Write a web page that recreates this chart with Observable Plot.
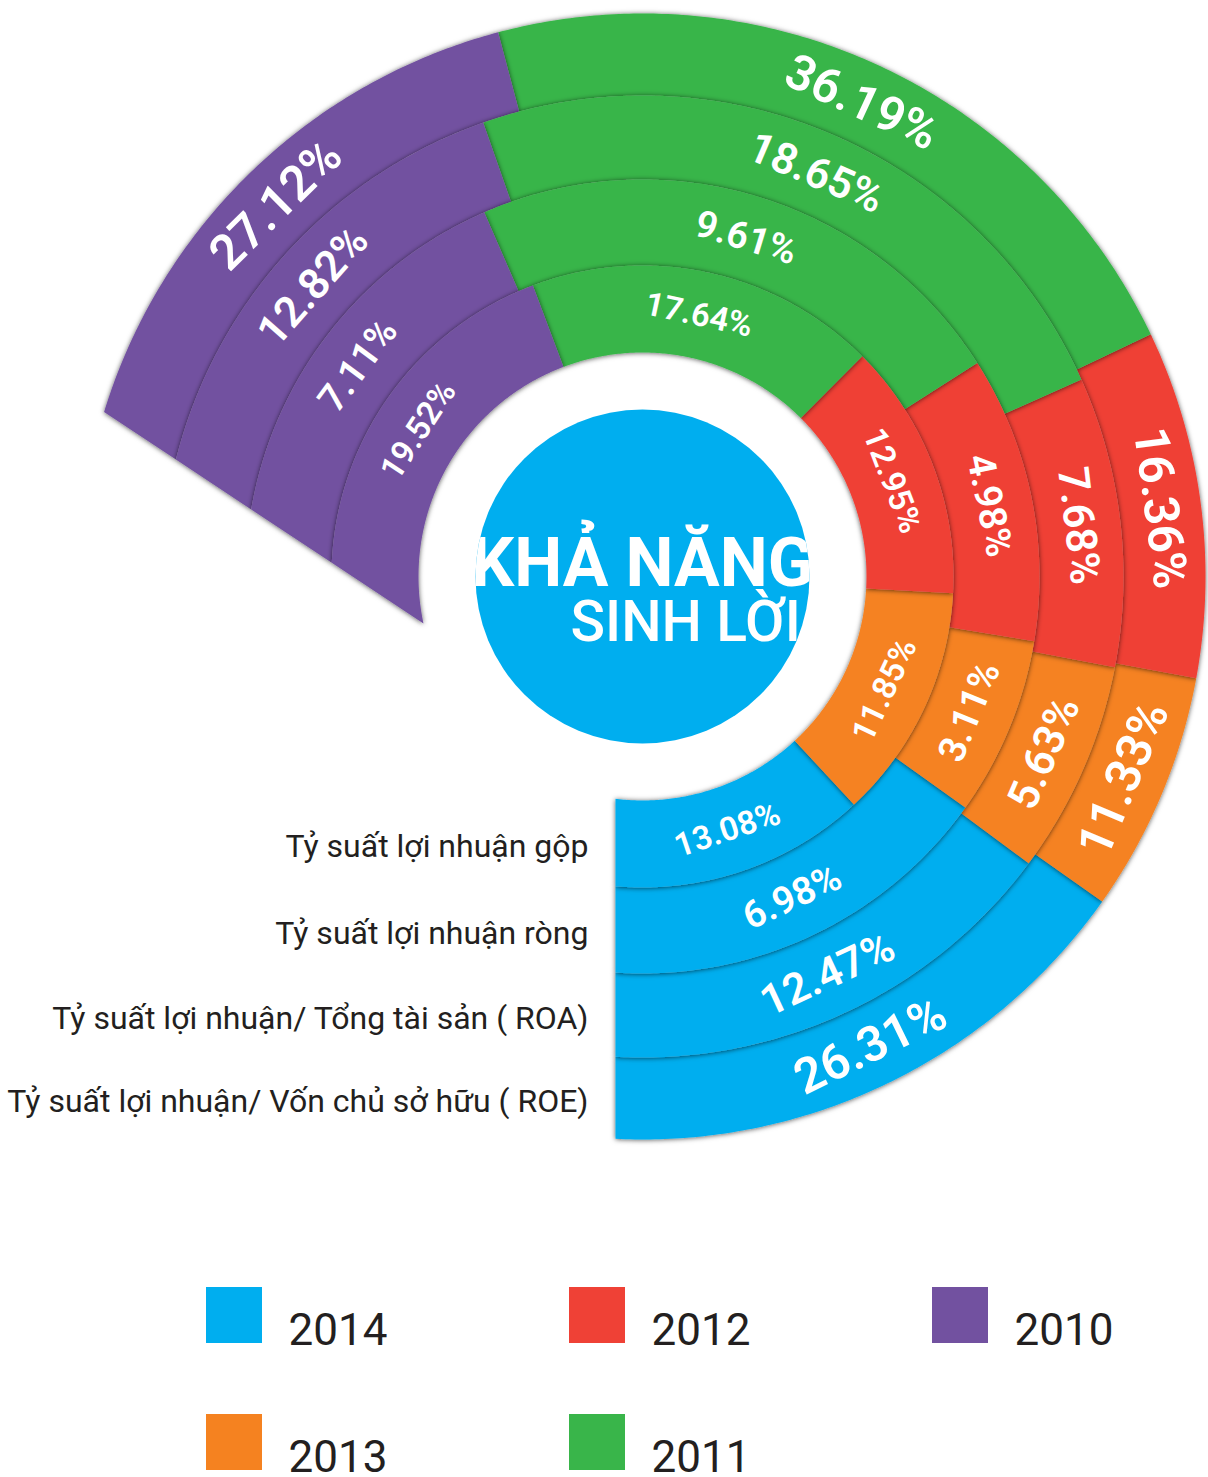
<!DOCTYPE html>
<html>
<head>
<meta charset="utf-8">
<script src="https://cdn.jsdelivr.net/npm/d3@7"></script>
<script src="https://cdn.jsdelivr.net/npm/@observablehq/plot@0.6"></script>
<style>
  html, body { margin: 0; padding: 0; background: #fff; }
  #chart svg { display: block; }
</style>
</head>
<body>
<div id="chart"></div>
<script>
// ---------------- DATA ----------------
const years = ["2014", "2013", "2012", "2011", "2010"];
const yearColors = ["#00AEEF", "#F58220", "#EF4136", "#39B54A", "#7251A0"];
const metrics = [
  "Tỷ suất lợi nhuận gộp",
  "Tỷ suất lợi nhuận ròng",
  "Tỷ suất lợi nhuận/ Tổng tài sản ( ROA)",
  "Tỷ suất lợi nhuận/ Vốn chủ sở hữu ( ROE)"
];
// values per metric, in the order of `years`
const gop  = [13.08, 11.85, 12.95, 17.64, 19.52];
const rong = [6.98, 3.11, 4.98, 9.61, 7.11];
const roa  = [12.47, 5.63, 7.68, 18.65, 12.82];
const roe  = [26.31, 11.33, 16.36, 36.19, 27.12];
const titleLines = ["KHẢ NĂNG", "SINH LỜI"];

// ---------------- LAYOUT ----------------
const ringValues = [gop, rong, roa, roe];
const ringFontSizes = [33, 38, 43, 49];
const W = 1208, H = 1477, CX = 642, CY = 576;
const radii = [224, 311, 397, 481, 563];
const centerR = 167;
const startCut = {angle: 270, dist: 27};   // straight start edge (vertical line)
const endCut = {angle: 326.5, dist: 160};  // straight end edge
const deg = Math.PI / 180;
const startAt = r => startCut.angle + Math.acos(startCut.dist / r) / deg - 360;
const endAt = r => endCut.angle - Math.acos(endCut.dist / r) / deg;
const polar = (r, a) => [r * Math.sin(a * deg), r * Math.cos(a * deg)];

const segPoints = [];
const segLabels = [];
for (let k = radii.length - 2; k >= 0; --k) {
  const vals = ringValues[k];
  const r0 = radii[k], r1 = radii[k + 1], rm = (r0 + r1) / 2;
  const a0 = startAt(rm), a1 = endAt(rm);
  const s = (a1 - a0) / d3.sum(vals);
  let cum = a0;
  vals.forEach((v, j) => {
    const b0 = cum, b1 = cum + v * s;
    cum = b1;
    const left = j === 0 ? startAt : () => b0;
    const right = j === vals.length - 1 ? endAt : () => b1;
    const id = k + "-" + j;
    const pts = [];
    const arc = (r, from, to) => {
      const n = Math.max(2, Math.ceil(Math.abs(to - from) / 0.5));
      for (let i = 0; i <= n; i++) pts.push(polar(r, from + (to - from) * i / n));
    };
    arc(r0, left(r0), right(r0));
    arc(r1, right(r1), left(r1));
    pts.forEach(([x, y]) => segPoints.push({id, year: years[j], x, y}));
    const am = (b0 + b1) / 2;
    const [lx, ly] = polar(rm, am);
    segLabels.push({ring: k, x: lx, y: ly, rotate: am < 88 ? -am : 180 - am, text: v.toFixed(2) + "%"});
  });
}

const metricLabels = metrics.map((m, k) => ({text: m, x: -startCut.dist - 27, y: (radii[k] + radii[k + 1]) / 2}));

const legendLeft = 206, legendTop = 1287, colStep = 363, rowStep = 127, sw = 56, labelGap = 82;
const legendItems = years.map((y, i) => {
  const col = Math.floor(i / 2), row = i % 2;
  const x1 = legendLeft + col * colStep - CX, y1 = legendTop + row * rowStep - CY;
  return {year: y, x1, x2: x1 + sw, y1, y2: y1 + sw, tx: x1 + labelGap, ty: y1 + sw + 1};
});

const plot = Plot.plot({
  width: W,
  height: H,
  margin: 0,
  x: {domain: [-CX, W - CX], range: [0, W], axis: null},
  y: {domain: [-CY, H - CY], range: [0, H], axis: null},
  color: {domain: years, range: yearColors},
  style: {fontFamily: "Roboto, 'Noto Sans', sans-serif", background: "white", overflow: "visible"},
  marks: [
    Plot.line(segPoints, {x: "x", y: "y", z: "id", fill: "year", stroke: "none", curve: "linear-closed", ariaDescription: "segments"}),
    ...[0, 1, 2, 3].map(k => Plot.text(segLabels.filter(d => d.ring === k), {
      x: "x", y: "y", text: "text", rotate: "rotate", fill: "white",
      fontSize: ringFontSizes[k], fontWeight: 600
    })),
    Plot.dot([{x: 0, y: 0}], {x: "x", y: "y", r: centerR, fill: "#00AEEF", stroke: "none"}),
    Plot.text([{t: titleLines[0], x: 0, y: 9}], {x: "x", y: "y", text: "t", fill: "white", fontSize: 68, fontWeight: 700, textAnchor: "middle", lineAnchor: "bottom", ariaDescription: "title"}),
    Plot.text([{t: titleLines[1], x: -72, y: 64}], {x: "x", y: "y", text: "t", fill: "white", fontSize: 57, fontWeight: 500, textAnchor: "start", lineAnchor: "bottom", ariaDescription: "title"}),
    Plot.text(metricLabels, {x: "x", y: "y", dy: 3, text: "text", textAnchor: "end", fontSize: 32, fill: "#231F20"}),
    Plot.rect(legendItems, {x1: "x1", x2: "x2", y1: "y1", y2: "y2", fill: "year"}),
    Plot.text(legendItems, {x: "tx", y: "ty", text: "year", textAnchor: "start", lineAnchor: "bottom", fontSize: 44, fill: "#231F20"})
  ]
});

document.getElementById("chart").append(plot);

// shadows on ring segments, circular clip on title
const ns = "http://www.w3.org/2000/svg";
const defs = document.createElementNS(ns, "defs");
defs.innerHTML =
  '<filter id="segshadow" x="-30%" y="-30%" width="160%" height="160%">' +
  '<feDropShadow dx="0" dy="0.5" stdDeviation="2.6" flood-color="#000" flood-opacity="0.65"/></filter>' +
  '<clipPath id="circleclip"><circle cx="' + CX + '" cy="' + CY + '" r="' + centerR + '"/></clipPath>';
plot.insertBefore(defs, plot.firstChild);
const segG = plot.querySelector('g[aria-description="segments"]');
if (segG) segG.querySelectorAll("path").forEach(p => p.setAttribute("filter", "url(#segshadow)"));
plot.querySelectorAll('g[aria-description="title"]').forEach(g => g.setAttribute("clip-path", "url(#circleclip)"));
</script>
</body>
</html>
